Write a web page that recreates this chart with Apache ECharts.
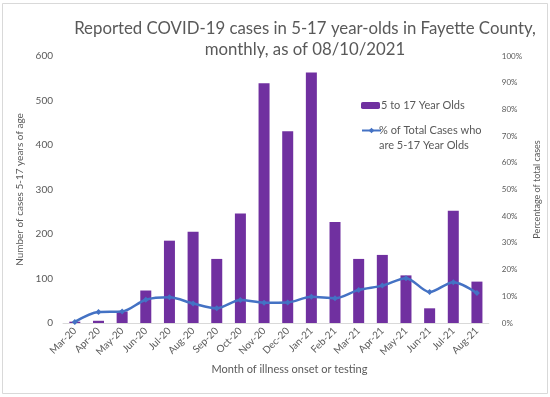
<!DOCTYPE html>
<html>
<head>
<meta charset="utf-8">
<title>COVID-19 cases 5-17 Fayette County</title>
<script src="https://cdn.jsdelivr.net/npm/echarts@6/dist/echarts.min.js"></script>
<style>
  html, body { margin: 0; padding: 0; background: #fff; }
  #main { width: 550px; height: 397px; }
</style>
</head>
<body>
<div id="main"></div>
<script>
// categories (month of onset)
var months = ['Mar-20', 'Apr-20', 'May-20', 'Jun-20', 'Jul-20', 'Aug-20', 'Sep-20', 'Oct-20', 'Nov-20',
  'Dec-20', 'Jan-21', 'Feb-21', 'Mar-21', 'Apr-21', 'May-21', 'Jun-21', 'Jul-21', 'Aug-21'];

// cases among 5-17 year olds
var cases = [3, 5, 26, 73, 185, 205, 144, 246, 539, 431, 563, 227, 144, 153, 107, 33, 252, 93];

// % of total cases who are 5-17 (fraction)
var pctOfTotal = [0.004, 0.041, 0.043, 0.087, 0.096, 0.073, 0.055, 0.086, 0.076,
  0.077, 0.098, 0.093, 0.124, 0.140, 0.168, 0.116, 0.153, 0.112];

// axis ticks
var leftMax = 600, leftStep = 100;
var rightMax = 1, rightStep = 0.1;

var FONT = 'Lato';
var GREY = '#595959';

var chart = echarts.init(document.getElementById('main'));

var option = {
  backgroundColor: '#fff',
  textStyle: { fontFamily: FONT },
  title: {
    text: 'Reported COVID-19 cases in 5-17 year-olds in Fayette County,\nmonthly, as of 08/10/2021',
    left: 300,
    top: 13,
    textAlign: 'center',
    textStyle: { fontFamily: FONT, fontSize: 16.8, fontWeight: 'normal', color: GREY, lineHeight: 21, align: 'center' }
  },
  legend: [
    {
      data: ['5 to 17 Year Olds'],
      left: 356,
      top: 95,
      itemWidth: 19,
      itemHeight: 7,
      textStyle: { fontFamily: FONT, fontSize: 11, color: GREY, padding: [0, 0, 0, -4] }
    },
    {
      // blank first line: the icon sits in the middle, i.e. level with the real first line
      data: ['% of Total Cases who\nare 5-17 Year Olds'],
      formatter: function (name) { return ' \n' + name; },
      left: 356,
      top: 103,
      itemWidth: 19,
      itemHeight: 7,
      textStyle: { fontFamily: FONT, fontSize: 11, color: GREY, lineHeight: 15, padding: [0, 0, 0, -7] }
    }
  ],
  grid: { left: 63, right: 60, top: 56, bottom: 74 },
  xAxis: {
    type: 'category',
    data: months,
    name: 'Month of illness onset or testing',
    nameLocation: 'middle',
    nameGap: 41,
    nameTextStyle: { fontFamily: FONT, fontSize: 11, color: GREY, padding: [0, 0, 0, 27] },
    axisLine: { lineStyle: { color: '#d9d9d9' } },
    axisTick: { show: false },
    axisLabel: { rotate: 45, fontSize: 10, color: GREY, margin: 6, interval: 0 }
  },
  yAxis: [
    {
      type: 'value',
      min: 0,
      max: leftMax,
      interval: leftStep,
      name: 'Number of cases 5-17 years of age',
      nameLocation: 'middle',
      nameGap: 38,
      nameTextStyle: { fontFamily: FONT, fontSize: 10, color: GREY },
      axisLine: { show: false },
      axisTick: { show: false },
      splitLine: { show: false },
      axisLabel: { fontSize: 10, color: GREY, margin: 10 }
    },
    {
      type: 'value',
      min: 0,
      max: rightMax,
      interval: rightStep,
      position: 'right',
      name: 'Percentage of total cases',
      nameLocation: 'middle',
      nameGap: 40,
      nameRotate: 90,
      nameTextStyle: { fontFamily: FONT, fontSize: 9, color: GREY },
      axisLine: { show: false },
      axisTick: { show: false },
      splitLine: { show: false },
      axisLabel: {
        fontSize: 8,
        color: GREY,
        margin: 13,
        formatter: function (v) { return Math.round(v * 100) + '%'; }
      }
    }
  ],
  series: [
    {
      name: '5 to 17 Year Olds',
      type: 'bar',
      data: cases,
      barWidth: 11,
      itemStyle: { color: '#7030A0' }
    },
    {
      name: '% of Total Cases who\nare 5-17 Year Olds',
      type: 'line',
      yAxisIndex: 1,
      data: pctOfTotal,
      smooth: 0.3,
      symbol: 'diamond',
      symbolSize: 6,
      lineStyle: { color: '#4472C4', width: 2.5 },
      itemStyle: { color: '#4472C4' }
    }
  ],
  // chart area border
  graphic: [
    {
      type: 'rect',
      shape: { x: 2.5, y: 3.5, width: 545, height: 390 },
      style: { fill: 'none', stroke: '#d9d9d9', lineWidth: 1 },
      silent: true
    }
  ]
};

chart.setOption(option);
</script>
</body>
</html>
